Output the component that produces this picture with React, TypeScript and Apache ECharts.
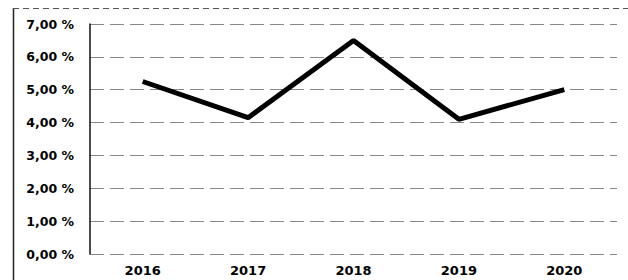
import React, { useEffect, useRef } from "react";
import * as echarts from "echarts";

const years = ["2016", "2017", "2018", "2019", "2020"];
const rates = [5.25, 4.15, 6.5, 4.1, 5.0];
const yTicks = { min: 0, max: 7, interval: 1 };

export default function App() {
  const ref = useRef<HTMLDivElement>(null);
  useEffect(() => {
    const chart = echarts.init(ref.current!, null, { renderer: "svg" });
    chart.setOption({
      animation: false,
      backgroundColor: "#ffffff",
      graphic: [
        { type: "line", shape: { x1: 13.5, y1: 8, x2: 13.5, y2: 280 }, style: { stroke: "#222", lineWidth: 1.5 } },
        { type: "line", shape: { x1: 13, y1: 8.5, x2: 628, y2: 8.5 }, style: { stroke: "#555", lineWidth: 1, lineDash: [6, 4] } },
      ],
      grid: { left: 90, right: 11, top: 24, bottom: 26 },
      xAxis: {
        type: "category",
        data: years,
        boundaryGap: true,
        axisLine: { show: false },
        axisTick: { show: false },
        axisLabel: { fontFamily: "DejaVu Sans", fontWeight: "bold", fontSize: 13, color: "#000", margin: 10 },
      },
      yAxis: {
        type: "value",
        min: yTicks.min,
        max: yTicks.max,
        interval: yTicks.interval,
        axisLine: { show: true, lineStyle: { color: "#111", width: 1.5 } },
        axisTick: { show: false },
        axisLabel: {
          fontFamily: "DejaVu Sans",
          fontWeight: "bold",
          fontSize: 12.5,
          color: "#000",
          margin: 16,
          formatter: (v: number) => v.toFixed(2).replace(".", ",") + " %",
        },
        splitLine: { show: true, lineStyle: { color: "#888", type: [14, 6], width: 1 } },
      },
      series: [
        {
          type: "line",
          data: rates,
          symbol: "none",
          lineStyle: { color: "#000", width: 5 },
        },
      ],
    });
    return () => chart.dispose();
  }, []);
  return <div ref={ref} style={{ position: "fixed", left: 0, top: 0, width: 628, height: 280 }} />;
}
